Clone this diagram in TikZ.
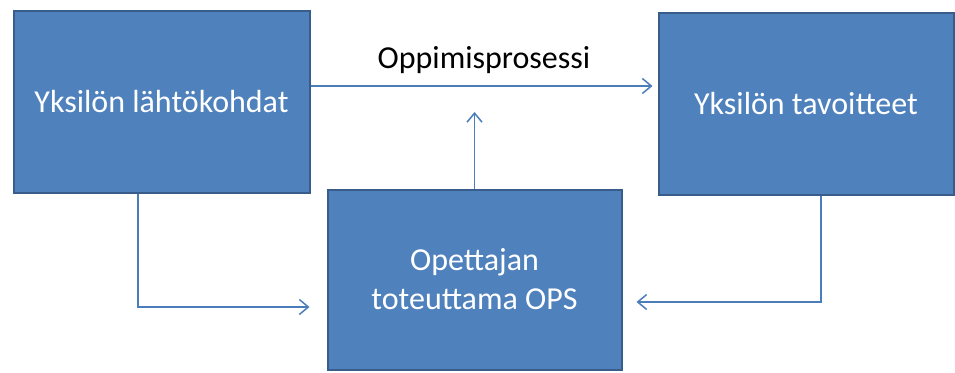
\documentclass[tikz,border=0pt]{standalone}
\usepackage{fontspec}
\setmainfont{Carlito}
\usetikzlibrary{arrows.meta}
\definecolor{boxblue}{HTML}{4F81BD}
\definecolor{boxedge}{HTML}{385D8A}
\definecolor{linkblue}{HTML}{4A7EBB}

\begin{document}
\begin{tikzpicture}[x=1pt, y=-1pt,
        box/.style={rectangle, fill=boxblue, draw=boxedge, line width=2pt, text=white, align=center, font=\fontsize{32}{39}\selectfont},
        link/.style={draw=linkblue, line width=1.5pt, -{Straight Barb[length=9pt,width=15pt,line width=1.5pt]}}]
        % Fix the picture size
        \useasboundingbox (0,0) rectangle (955,372);

        % Define the boxes
        \node[box, minimum width=296pt, minimum height=182pt] (lahto) at (161.5,101.5) {Yksilön lähtökohdat};
        \node[box, minimum width=295pt, minimum height=182pt] (tavoite) at (806,103.5) {Yksilön tavoitteet};
        \node[box, minimum width=294pt, minimum height=180pt] (ops) at (474.5,279.5) {Opettajan\\toteuttama OPS};

        % End point of the arrow from the bottom box
        \coordinate (prosessipiste) at (474.5,112);

        % Learning process arrow with its label
        \draw[link, shorten >=5pt] ([yshift=15.5pt]lahto.east) -- ([yshift=17.5pt]tavoite.west)
            node[midway, yshift=26pt, font=\fontsize{32}{39}\selectfont] (prosessi) {Oppimisprosessi};

        % Arrows into and out of the bottom box
        \draw[link] (ops.north) -- (prosessipiste);
        \draw[link, shorten >=17pt] ([xshift=-23.5pt]lahto.south) |- ([yshift=-27.5pt]ops.west);
        \draw[link, shorten >=14pt] ([xshift=15pt]tavoite.south) |- ([yshift=-22.5pt]ops.east);

    \end{tikzpicture}
\end{document}
